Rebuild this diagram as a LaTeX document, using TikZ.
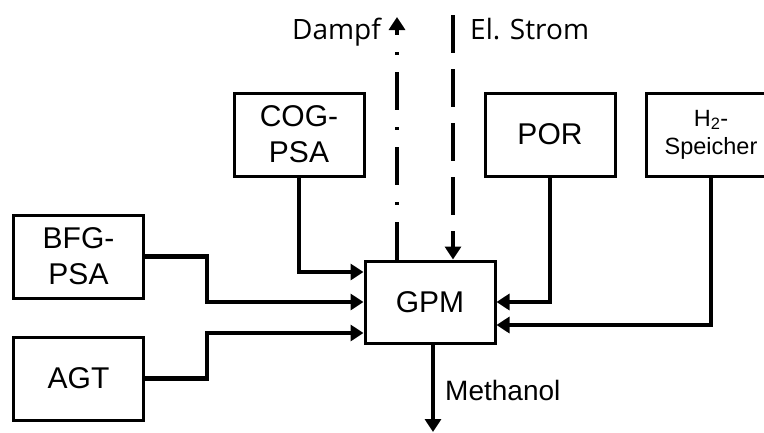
\documentclass[tikz,border=0pt]{standalone}
\usepackage{fontspec}
\setmainfont{Liberation Sans}
\newfontfamily\flowfont{Open Sans}
\usetikzlibrary{arrows.meta}

\begin{document}
\begin{tikzpicture}[x=1pt,y=-1pt]
  \tikzset{blockbox/.style={draw=black,line width=3pt,minimum width=130pt,minimum height=83pt,
      align=center,inner sep=0pt,font=\fontsize{30}{36}\selectfont}}
  \tikzset{flowline/.style={draw=black,line width=4.5pt,-{Triangle[length=13pt,width=16pt]}}}
  \tikzset{flowlabel/.style={inner sep=0pt,font=\flowfont\fontsize{28}{34}\selectfont}}
  \useasboundingbox (0,0) rectangle (764,432);

  \node[blockbox] (bfg) at (78.5,256.5) {BFG-\\PSA};
  \node[blockbox] (agt) at (78.5,378.5) {AGT};
  \node[blockbox] (cog) at (299,134.5) {COG-\\PSA};
  \node[blockbox,minimum height=82pt] (gpm) at (430,302) {GPM};
  \node[blockbox] (por) at (550,134.5) {POR};
  \node[blockbox,font=\fontsize{23.5}{28}\selectfont] (h2) at (711,134.5) {H\textsubscript{2}-\\Speicher};

  \coordinate (bend) at (207,0);
  \coordinate (incog) at ([yshift=30pt]gpm.west);
  \coordinate (inagt) at ([yshift=-31pt]gpm.west);
  \coordinate (inh2) at ([yshift=-23pt]gpm.east);
  \coordinate (outdampf) at ([xshift=-33pt]gpm.north);
  \coordinate (instrom) at ([xshift=23pt]gpm.north);
  \coordinate (outmeth) at ([xshift=3pt]gpm.south);
  \coordinate (dampfend) at (397,17);
  \coordinate (stromstart) at (453,15);
  \coordinate (methend) at (433,432);

  % Zuleitungen links
  \draw[flowline] (cog.south) |- (incog);
  \draw[flowline] (bfg.east) -| (bend |- gpm.west) -- (gpm.west);
  \draw[flowline] (agt.east) -| (bend |- inagt) -- (inagt);

  % Zuleitungen rechts
  \draw[flowline] (por.south) |- (gpm.east);
  \draw[flowline] (h2.south) |- (inh2);

  % Dampf und Strom
  \draw[flowline,dash pattern=on 38pt off 17pt on 3pt off 17pt] (outdampf) -- (dampfend);
  \draw[flowline,dash pattern=on 38pt off 16pt] (stromstart) -- (instrom);
  \node[flowlabel,anchor=base east] (dampf) at (381,39) {Dampf};
  \node[flowlabel,anchor=base west] (strom) at (470,39) {El. Strom};

  % Produkt
  \draw[flowline] (outmeth) -- (methend);
  \node[anchor=base west,inner sep=0pt,font=\fontsize{28}{34}\selectfont] (methanol) at (445,400) {Methanol};
\end{tikzpicture}
\end{document}
